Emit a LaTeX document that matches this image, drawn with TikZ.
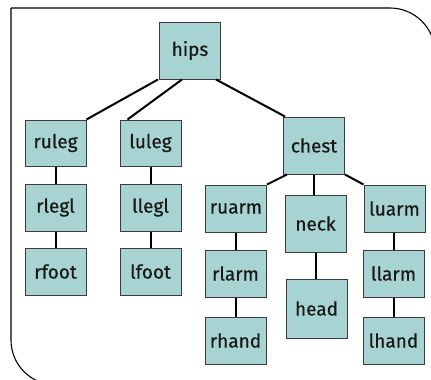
\documentclass[tikz,border=0pt]{standalone}
\usepackage{fontspec}
\setmainfont{Fira Sans}
\newfontfamily\bonefont{Fira Sans}[FakeBold=0.5]
\definecolor{boxfill}{RGB}{167,211,210}
\definecolor{boxline}{RGB}{60,60,60}
\begin{document}
\begin{tikzpicture}[x=1pt,y=-1pt,
  bone/.style={draw=boxline,line width=1pt,fill=boxfill,minimum width=61pt,minimum height=47pt,inner sep=0pt,font=\bonefont\fontsize{19}{22}\selectfont,text=black!90},
  tall/.style={bone,minimum height=57pt},
  link/.style={line width=2pt,black}]
\useasboundingbox (0,0) rectangle (431,380);
\begin{scope}
\clip (0,0) rectangle (431,380);
\draw[line width=1.1pt] (11,8) -- (390,8) arc[start angle=-90,end angle=0,radius=45] -- (435,420);
\draw[line width=1.1pt] (11,8) -- (11,340) arc[start angle=180,end angle=90,radius=45] -- (460,385);
\end{scope}
\node[tall] (hips) at (190,50.5) {hips};
\node[bone,minimum height=46pt] (ruleg) at (55.5,143) {ruleg};
\node[bone,minimum height=46pt] (luleg) at (150.5,143) {luleg};
\node[tall] (chest) at (314,145.5) {chest};
\node[bone] (rlegl) at (55.5,207.5) {rlegl};
\node[bone] (rfoot) at (55.5,271.5) {rfoot};
\node[bone] (llegl) at (150.5,207.5) {llegl};
\node[bone] (lfoot) at (150.5,271.5) {lfoot};
\node[bone] (ruarm) at (236,208.5) {ruarm};
\node[bone] (rlarm) at (235.5,273.5) {rlarm};
\node[bone] (rhand) at (235.5,340.5) {rhand};
\node[tall] (neck) at (315.5,223.5) {neck};
\node[tall,minimum height=59pt] (head) at (316.5,308.5) {head};
\node[bone] (luarm) at (394.5,208.5) {luarm};
\node[bone] (llarm) at (393.5,273.5) {llarm};
\node[bone] (lhand) at (393.5,340.5) {lhand};
\draw[link] ([xshift=-1pt]hips.south west) -- (ruleg.north east);
\draw[link] ([xshift=-8pt]hips.south) -- ([xshift=8pt]luleg.north west);
\draw[link] ([xshift=-5pt]hips.south east) -- ([xshift=2pt]chest.north west);
\draw[link] ([xshift=4pt]chest.south west) -- (ruarm.north east);
\draw[link] (chest.south) -- (chest.south |- neck.north);
\draw[link] (chest.south east) -- (luarm.north west);
\draw[link] (ruleg) -- (rlegl);
\draw[link] (rlegl) -- (rfoot);
\draw[link] (luleg) -- (llegl);
\draw[link] (llegl) -- (lfoot);
\draw[link] (ruarm.south -| rlarm.north) -- (rlarm.north);
\draw[link] (rlarm) -- (rhand);
\draw[link] (neck.south) -- (neck.south |- head.north);
\draw[link] (luarm.south -| llarm.north) -- (llarm.north);
\draw[link] (llarm) -- (lhand);
\end{tikzpicture}
\end{document}
